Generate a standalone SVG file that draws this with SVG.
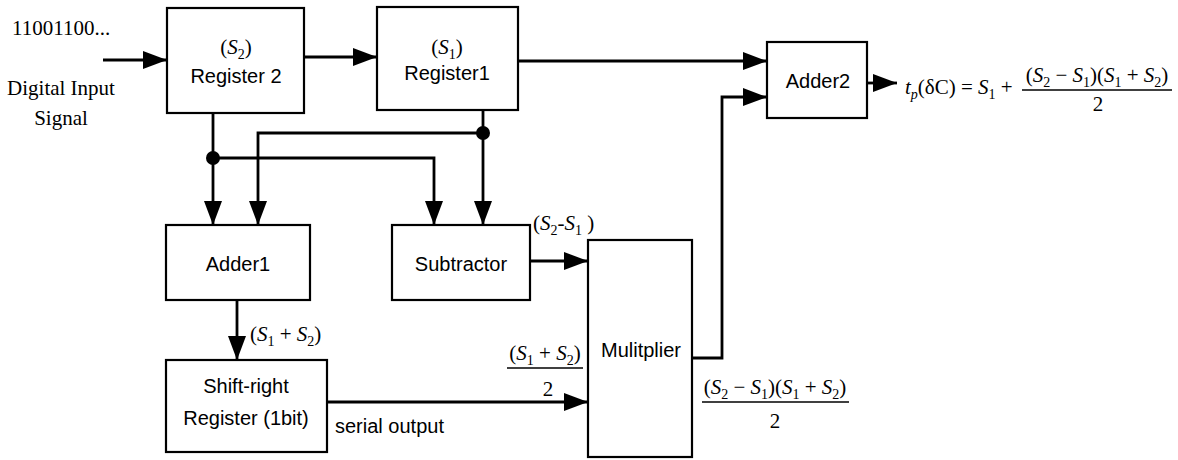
<svg xmlns="http://www.w3.org/2000/svg" width="1178" height="460" viewBox="0 0 1178 460">
<style>
.box{fill:#fff;stroke:#000;stroke-width:2.2}
.wire{fill:none;stroke:#000;stroke-width:2.8}
.frac{stroke:#000;stroke-width:1.6}
.lbl{font-family:"Liberation Sans",Arial,sans-serif;font-size:20px;fill:#000}
.m{font-family:"Liberation Serif","Times New Roman",serif;font-size:21px;fill:#000}
.f{font-family:"Liberation Serif","Times New Roman",serif;font-size:21px;fill:#000}
.i{font-style:italic}
.sb{font-size:14px}
</style>
<defs>
<marker id="ah" viewBox="0 0 24 18" refX="24" refY="9" markerWidth="24" markerHeight="18" markerUnits="userSpaceOnUse" orient="auto">
<path d="M0,0 L24,9 L0,18 z" fill="#000"/>
</marker>
</defs>
<rect width="1178" height="460" fill="#fff"/>

<g id="connectors">
<path class="wire" d="M103,60 H167" marker-end="url(#ah)"/>
<path class="wire" d="M304,57 H377" marker-end="url(#ah)"/>
<path class="wire" d="M518,61 H767" marker-end="url(#ah)"/>
<path class="wire" d="M213,113 V225" marker-end="url(#ah)"/>
<path class="wire" d="M213,158 H434 V225" marker-end="url(#ah)"/>
<path class="wire" d="M483,110 V225" marker-end="url(#ah)"/>
<path class="wire" d="M483,133 H258 V225" marker-end="url(#ah)"/>
<path class="wire" d="M530,261 H588" marker-end="url(#ah)"/>
<path class="wire" d="M237,300 V360" marker-end="url(#ah)"/>
<path class="wire" d="M327,402 H588" marker-end="url(#ah)"/>
<path class="wire" d="M692,358 H722 V97 H767" marker-end="url(#ah)"/>
<path class="wire" d="M867,83 H897" marker-end="url(#ah)"/>
<circle cx="213" cy="158" r="7" fill="#000"/>
<circle cx="483" cy="133" r="7" fill="#000"/>
</g>

<g id="input-label">
<text class="m" x="12" y="35">11001100...</text>
<text class="m" x="61" y="95" text-anchor="middle">Digital Input</text>
<text class="m" x="61" y="125" text-anchor="middle">Signal</text>
</g>

<g id="register2">
<rect class="box" x="167" y="8" width="137" height="105"/>
<text class="m" x="236" y="54" text-anchor="middle">(<tspan class="i">S</tspan><tspan class="sb" dy="5">2</tspan><tspan dy="-5">)</tspan></text>
<text class="lbl" x="236" y="83" text-anchor="middle">Register 2</text>
</g>

<g id="register1">
<rect class="box" x="377" y="7" width="141" height="103"/>
<text class="m" x="447" y="54" text-anchor="middle">(<tspan class="i">S</tspan><tspan class="sb" dy="5">1</tspan><tspan dy="-5">)</tspan></text>
<text class="lbl" x="447" y="80" text-anchor="middle">Register1</text>
</g>

<g id="adder2">
<rect class="box" x="767" y="42" width="100" height="76"/>
<text class="lbl" x="818" y="88" text-anchor="middle">Adder2</text>
</g>

<g id="output-formula">
<text class="f" x="905" y="94"><tspan class="i">t</tspan><tspan class="i sb" dy="5">p</tspan><tspan dy="-5">(δC) = </tspan><tspan class="i">S</tspan><tspan class="sb" dy="5">1</tspan><tspan dy="-5"> +</tspan></text>
<text class="f" x="1097" y="82" text-anchor="middle">(<tspan class="i">S</tspan><tspan class="sb" dy="5">2</tspan><tspan dy="-5"> − </tspan><tspan class="i">S</tspan><tspan class="sb" dy="5">1</tspan><tspan dy="-5">)(</tspan><tspan class="i">S</tspan><tspan class="sb" dy="5">1</tspan><tspan dy="-5"> + </tspan><tspan class="i">S</tspan><tspan class="sb" dy="5">2</tspan><tspan dy="-5">)</tspan></text>
<line class="frac" x1="1022" y1="90" x2="1172" y2="90"/>
<text class="f" x="1098" y="111" text-anchor="middle">2</text>
</g>

<g id="adder1">
<rect class="box" x="166" y="225" width="144" height="75"/>
<text class="lbl" x="238" y="271" text-anchor="middle">Adder1</text>
</g>

<g id="subtractor">
<rect class="box" x="392" y="225" width="138" height="75"/>
<text class="lbl" x="461" y="271" text-anchor="middle">Subtractor</text>
</g>

<g id="shift-register">
<rect class="box" x="166" y="360" width="161" height="92"/>
<text class="lbl" x="246" y="393" text-anchor="middle">Shift-right</text>
<text class="lbl" x="246" y="425" text-anchor="middle">Register (1bit)</text>
</g>

<g id="multiplier">
<rect class="box" x="588" y="240" width="104" height="217"/>
<text class="lbl" x="641" y="357" text-anchor="middle">Mulitplier</text>
</g>

<g id="labels">
<text class="m" x="533" y="230">(<tspan class="i">S</tspan><tspan class="sb" dy="5">2</tspan><tspan dy="-5">-</tspan><tspan class="i">S</tspan><tspan class="sb" dy="5">1</tspan><tspan dy="-5"> )</tspan></text>
<text class="m" x="250" y="341">(<tspan class="i">S</tspan><tspan class="sb" dy="5">1</tspan><tspan dy="-5"> + </tspan><tspan class="i">S</tspan><tspan class="sb" dy="5">2</tspan><tspan dy="-5">)</tspan></text>
<text class="m" x="545" y="360" text-anchor="middle">(<tspan class="i">S</tspan><tspan class="sb" dy="5">1</tspan><tspan dy="-5"> + </tspan><tspan class="i">S</tspan><tspan class="sb" dy="5">2</tspan><tspan dy="-5">)</tspan></text>
<line class="frac" x1="507" y1="368" x2="583" y2="368"/>
<text class="m" x="548" y="396" text-anchor="middle">2</text>
<text class="lbl" x="335" y="433">serial output</text>
<text class="m" x="775" y="394" text-anchor="middle">(<tspan class="i">S</tspan><tspan class="sb" dy="5">2</tspan><tspan dy="-5"> − </tspan><tspan class="i">S</tspan><tspan class="sb" dy="5">1</tspan><tspan dy="-5">)(</tspan><tspan class="i">S</tspan><tspan class="sb" dy="5">1</tspan><tspan dy="-5"> + </tspan><tspan class="i">S</tspan><tspan class="sb" dy="5">2</tspan><tspan dy="-5">)</tspan></text>
<line class="frac" x1="702" y1="402" x2="849" y2="402"/>
<text class="m" x="775" y="428" text-anchor="middle">2</text>
</g>
</svg>
